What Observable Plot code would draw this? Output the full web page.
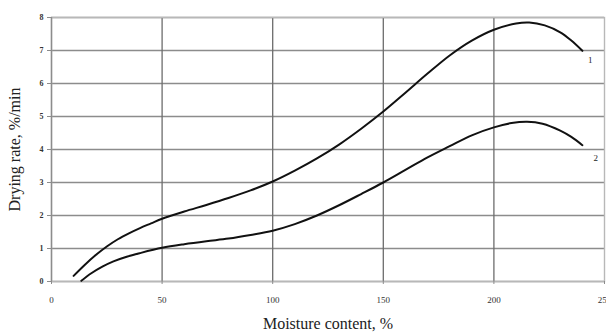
<!DOCTYPE html>
<html>
<head>
<meta charset="utf-8">
<script src="https://cdn.jsdelivr.net/npm/d3@7"></script>
<script src="https://cdn.jsdelivr.net/npm/@observablehq/plot@0.6"></script>
<style>
  html, body { margin: 0; padding: 0; background: #fff; }
  #chart { width: 606px; height: 334px; }
</style>
</head>
<body>
<div id="chart"></div>
<script>
const xTicks = [0, 50, 100, 150, 200, 250];
const yTicks = [0, 1, 2, 3, 4, 5, 6, 7, 8];

const curve1X = [10, 15, 20, 25, 30, 35, 40, 45, 50, 60, 70, 80, 90, 100, 110, 120, 130, 140, 150, 160, 170, 180, 190, 200, 210, 216, 223, 230, 235, 240];
const curve1Y = [0.17, 0.5, 0.8, 1.06, 1.28, 1.46, 1.62, 1.76, 1.9, 2.12, 2.32, 2.53, 2.76, 3.03, 3.36, 3.73, 4.15, 4.63, 5.15, 5.72, 6.3, 6.85, 7.3, 7.63, 7.82, 7.85, 7.76, 7.55, 7.3, 6.99];

const curve2X = [13.5, 18, 23, 28, 34, 40, 50, 60, 70, 80, 90, 100, 110, 120, 130, 140, 150, 160, 170, 180, 190, 200, 208, 215, 222, 230, 235, 240];
const curve2Y = [0.02, 0.25, 0.45, 0.61, 0.75, 0.86, 1.02, 1.13, 1.22, 1.3, 1.41, 1.54, 1.74, 2.0, 2.31, 2.65, 3.0, 3.38, 3.76, 4.1, 4.43, 4.67, 4.8, 4.84, 4.78, 4.57, 4.38, 4.13];

const seriesLabels = ["1", "2"];
const labelX = [242.5, 245];
const labelY = [6.72, 3.75];

const d1 = curve1X.map((x, i) => ({x, y: curve1Y[i]}));
const d2 = curve2X.map((x, i) => ({x, y: curve2Y[i]}));
const labels = seriesLabels.map((t, i) => ({t, x: labelX[i], y: labelY[i]}));

const chart = Plot.plot({
  width: 606,
  height: 334,
  marginLeft: 51,
  marginRight: 2,
  marginTop: 17,
  marginBottom: 53,
  style: {fontFamily: "'Liberation Serif', 'Times New Roman', serif", background: "#fff", overflow: "visible"},
  x: {domain: [0, 250], ticks: xTicks, label: null},
  y: {domain: [0, 8], ticks: yTicks, label: null},
  marks: [
    Plot.gridY(yTicks, {stroke: "#8c8c8c", strokeOpacity: 1, strokeWidth: 1.4}),
    Plot.gridX([50, 100, 150, 200], {stroke: "#6c6c6c", strokeOpacity: 1, strokeWidth: 1.3}),
    Plot.frame({stroke: "#b8b8b8", strokeWidth: 1.4}),
    Plot.ruleX([0], {stroke: "#8c8c8c", strokeWidth: 1.4}),
    Plot.axisY(yTicks, {tickSize: 4, tickPadding: 4, fontSize: 8, fontWeight: "bold", fill: "#333", stroke: "#8c8c8c"}),
    Plot.axisX(xTicks, {tickSize: 3, tickPadding: 12, fontSize: 9, fill: "#333", stroke: "#8c8c8c"}),
    Plot.line(d1, {x: "x", y: "y", curve: "catmull-rom", stroke: "#111", strokeWidth: 2}),
    Plot.line(d2, {x: "x", y: "y", curve: "catmull-rom", stroke: "#111", strokeWidth: 2}),
    Plot.text(labels, {x: "x", y: "y", text: "t", fontSize: 9, fill: "#222", textAnchor: "start"}),
    Plot.text(["Moisture content, %"], {frameAnchor: "bottom", dy: 47, fontSize: 16, fill: "#222"}),
    Plot.text(["Drying rate, %/min"], {frameAnchor: "left", dx: -37, rotate: -90, textAnchor: "middle", fontSize: 16, fill: "#222"})
  ]
});
document.getElementById("chart").appendChild(chart);
</script>
</body>
</html>
